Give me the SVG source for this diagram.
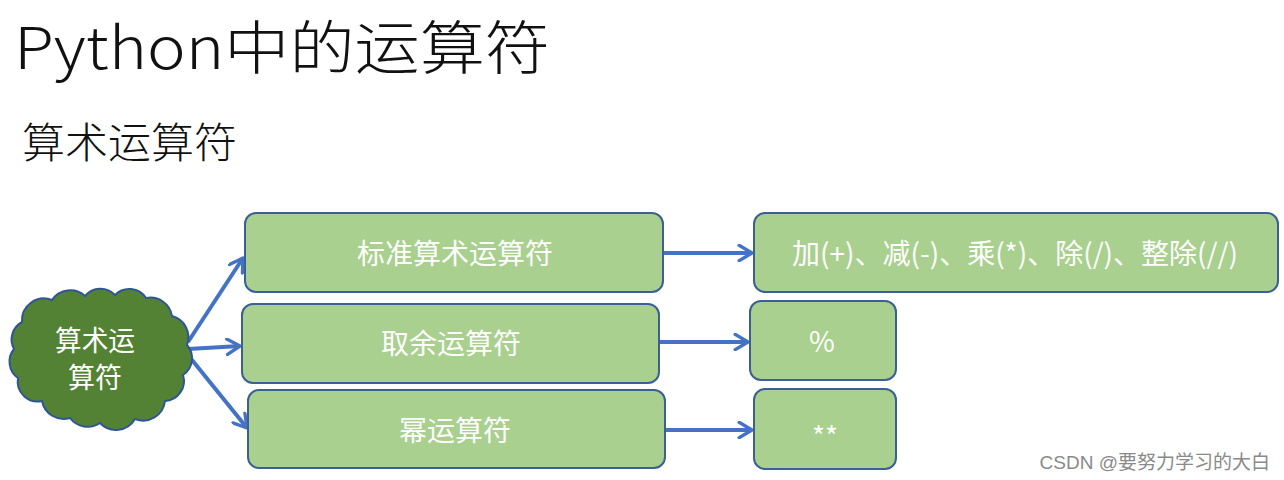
<svg xmlns="http://www.w3.org/2000/svg" width="1284" height="480" viewBox="0 0 1284 480">
<defs>
<style>
.box{fill:#a9d08e;stroke:#3a6096;stroke-width:2}
.lbl{fill:#ffffff;font-family:"Noto Sans CJK SC","Noto Sans",sans-serif;font-size:28px;text-anchor:middle}
.con{stroke:#4472c4;stroke-width:4;fill:none}
.ttl{fill:#111;font-family:"Noto Sans CJK SC","Noto Sans",sans-serif;font-weight:300}
</style>
<marker id="ah" viewBox="0 0 14 14" refX="12" refY="7" markerWidth="18" markerHeight="18" markerUnits="userSpaceOnUse" orient="auto">
<path d="M2,1 L12,7 L2,13" fill="none" stroke="#4472c4" stroke-width="2.6" stroke-linecap="round" stroke-linejoin="round"/>
</marker>
</defs>
<rect width="1284" height="480" fill="#ffffff"/>
<g id="title">
<text class="ttl" x="14" y="69" font-size="58" textLength="536" lengthAdjust="spacingAndGlyphs">Python中的运算符</text>
</g>
<g id="subtitle">
<text class="ttl" x="22" y="158" font-size="42" textLength="215" lengthAdjust="spacingAndGlyphs">算术运算符</text>
</g>
<g id="connectors">
<line class="con" x1="188" y1="342" x2="243" y2="258" marker-end="url(#ah)"/>
<line class="con" x1="188" y1="349" x2="240" y2="346" marker-end="url(#ah)"/>
<line class="con" x1="188" y1="355" x2="247" y2="428" marker-end="url(#ah)"/>
<line class="con" x1="663" y1="253" x2="752" y2="253" marker-end="url(#ah)"/>
<line class="con" x1="659" y1="342" x2="748" y2="342" marker-end="url(#ah)"/>
<line class="con" x1="665" y1="430" x2="752" y2="430" marker-end="url(#ah)"/>
</g>
<g id="cloud">
<path d="M22,322 A22,22 0 0 1 52,300 A22,22 0 0 1 85,296 A20,20 0 0 1 115,295 A20,20 0 0 1 146,298 A22,22 0 0 1 172,316 A22,22 0 0 1 187,345 A20,20 0 0 1 183,375 A20,20 0 0 1 165,401 A22,22 0 0 1 135,419 A22,22 0 0 1 100,423 A22,22 0 0 1 70,418 A22,22 0 0 1 42,401 A20,20 0 0 1 18,378 A20,20 0 0 1 14,349 A20,20 0 0 1 22,322 Z" fill="#548235" stroke="#2f5597" stroke-width="2"/>
<text class="lbl" x="95" y="351" font-size="25" textLength="80" lengthAdjust="spacingAndGlyphs">算术运</text>
<text class="lbl" x="95" y="388" font-size="25" textLength="54" lengthAdjust="spacingAndGlyphs">算符</text>
</g>
<g id="n-standard">
<rect class="box" x="245" y="213" width="418" height="79" rx="11"/>
<text class="lbl" x="455" y="264">标准算术运算符</text>
</g>
<g id="n-mod">
<rect class="box" x="242" y="304" width="417" height="79" rx="11"/>
<text class="lbl" x="451" y="354">取余运算符</text>
</g>
<g id="n-pow">
<rect class="box" x="248" y="390" width="417" height="78" rx="11"/>
<text class="lbl" x="455" y="441">幂运算符</text>
</g>
<g id="r-standard">
<rect class="box" x="754" y="213" width="524" height="79" rx="11"/>
<text class="lbl" x="1015" y="264" font-size="27">加(+)、减(-)、乘(*)、除(/)、整除(//)</text>
</g>
<g id="r-mod">
<rect class="box" x="750" y="301" width="146" height="79" rx="11"/>
<text class="lbl" x="822" y="352" font-size="25">%</text>
</g>
<g id="r-pow">
<rect class="box" x="754" y="389" width="142" height="80" rx="11"/>
<text class="lbl" x="825" y="447" font-size="32">**</text>
</g>
<g id="watermark">
<text x="1270" y="469" font-family="'Liberation Sans','Noto Sans CJK SC',sans-serif" font-size="19" fill="#8a8a8a" text-anchor="end">CSDN @要努力学习的大白</text>
</g>
</svg>
